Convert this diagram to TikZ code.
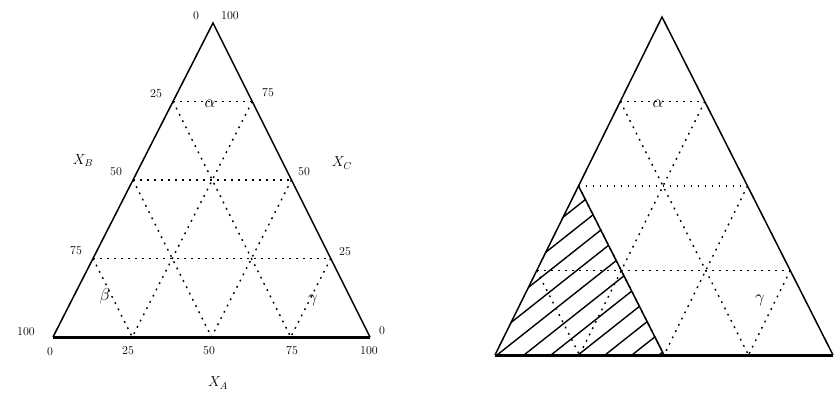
\documentclass[tikz,border=0pt]{standalone}
\usepackage{amsmath,amssymb}
\usepackage{tikz}
\usetikzlibrary{calc}

\begin{document}
\begin{tikzpicture}[x=1pt,y=-1pt,
    every node/.style={font=\large,inner sep=1pt},
    gridline/.style={dash pattern=on 1.8pt off 5.2pt,line width=1.4pt},
    edge/.style={line width=1.5pt},
    base/.style={line width=3pt},
    phase/.style={font=\LARGE}]
  \useasboundingbox (0,0) rectangle (834,398);

  % left diagram: corners
  \coordinate (A) at (213,23);
  \coordinate (B) at (53,337);
  \coordinate (C) at (370,337);

  % dotted grid at quarter steps
  \foreach \t/\s in {0.25/0.75,0.5/0.5,0.75/0.25}{
    \draw[gridline] ($(A)!\t!(B)$) -- ($(A)!\t!(C)$);
    \draw[gridline] ($(A)!\t!(B)$) -- ($(B)!\s!(C)$);
    \draw[gridline] ($(A)!\t!(C)$) -- ($(C)!\s!(B)$);
  }
  \draw[edge] (B) -- (A) -- (C);
  \draw[base] (B) -- (C);

  % scale values along the three sides
  \foreach \lab/\x/\y [count=\i] in {0/196/16,25/156/94,50/116/172,75/76/251,100/26/332}
    \node (ls\i) at (\x,\y) {\lab};
  \foreach \lab/\x/\y [count=\i] in {0/50/352,25/128/351,50/209/351,75/292/351,100/369/351}
    \node (bs\i) at (\x,\y) {\lab};
  \foreach \lab/\x/\y [count=\i] in {100/230/16,75/268/93,50/304/172,25/345/252,0/382/331}
    \node (rs\i) at (\x,\y) {\lab};

  % axis names
  \node[font=\Large] (xb) at (83,161) {$X_B$};
  \node[font=\Large] (xc) at (342,163) {$X_C$};
  \node[font=\Large] (xa) at (218,383) {$X_A$};

  % one-phase regions
  \node[phase] (la) at (210,104) {$\alpha$};
  \node[phase] (lb) at (105,296) {$\beta$};
  \node[phase] (lc) at (313,300) {$\gamma$};

  % right diagram: corners
  \coordinate (P) at (662,17);
  \coordinate (Q) at (495,355);
  \coordinate (R) at (833,355);

  \foreach \t/\s in {0.25/0.75,0.5/0.5,0.75/0.25}{
    \draw[gridline] ($(P)!\t!(Q)$) -- ($(P)!\t!(R)$);
    \draw[gridline] ($(P)!\t!(Q)$) -- ($(Q)!\s!(R)$);
    \draw[gridline] ($(P)!\t!(R)$) -- ($(R)!\s!(Q)$);
  }

  % hatched beta field
  \coordinate (Qm) at ($(P)!0.5!(Q)$);
  \coordinate (Rm) at ($(Q)!0.5!(R)$);
  \begin{scope}
    \clip (Q) -- (Qm) -- (Rm) -- cycle;
    \foreach \b in {362,389,...,659}
      \draw[line width=1.4pt] (\b,355) -- ++(240,-190);
  \end{scope}
  \draw[edge] (Qm) -- (Rm);

  \draw[edge] (Q) -- (P) -- (R);
  \draw[base] (Q) -- (R);

  \node[phase] (ra) at (658,104) {$\alpha$};
  \node[phase] (rc) at (760,300) {$\gamma$};
\end{tikzpicture}
\end{document}
